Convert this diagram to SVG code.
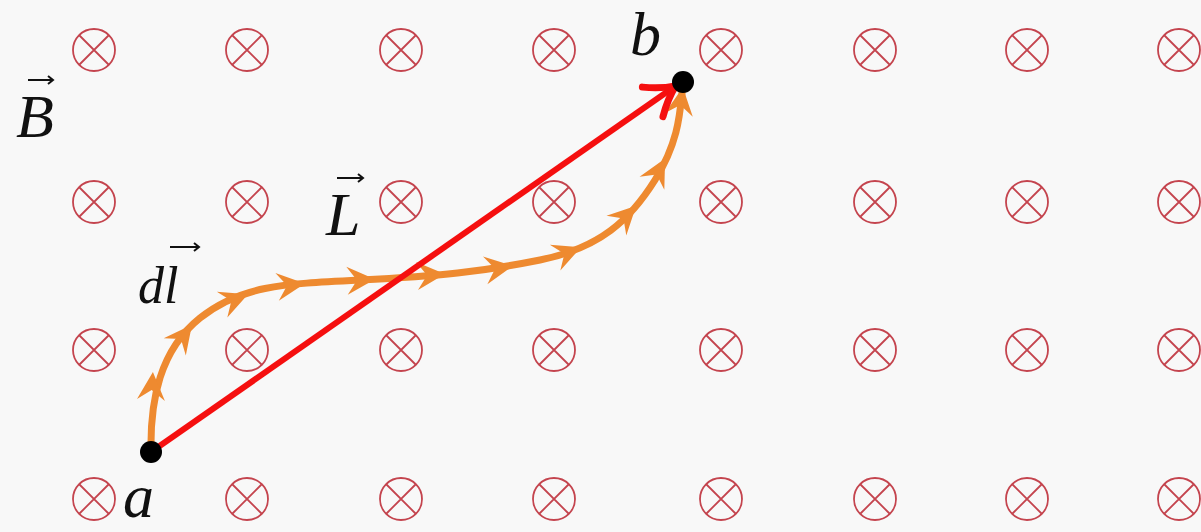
<svg xmlns="http://www.w3.org/2000/svg" xmlns:xlink="http://www.w3.org/1999/xlink" width="1201" height="532" viewBox="0 0 1201 532">
<style>
.ot{fill:none;stroke:#c4444e;stroke-width:1.8}
.lbl{font-family:"Liberation Serif",serif;font-style:italic;fill:#111}
.vec{stroke:#111;stroke-width:2;fill:none}
.orange{fill:none;stroke:#ee8a30;stroke-width:7;stroke-linecap:round}
.oh{fill:#ee8a30}
</style>
<defs>
<g id="x"><circle class="ot" r="21"/><path class="ot" d="M-15,-15L15,15M-15,15L15,-15"/></g>
<path id="ah" d="M13,0 L-15,-14 L-5,0 L-15,14 Z"/>
<marker id="redhead" markerUnits="userSpaceOnUse" markerWidth="50" markerHeight="50" viewBox="-35 -25 50 50" refX="0" refY="0" orient="auto">
<path d="M-26,-18 Q-12,-6 2,0 Q-12,6 -26,18" fill="none" stroke="#f50f0f" stroke-width="7" stroke-linecap="round" stroke-linejoin="round"/>
</marker>
</defs>
<rect width="1201" height="532" fill="#f8f8f8"/>
<g id="field">
<use xlink:href="#x" x="94" y="50"/><use xlink:href="#x" x="247" y="50"/><use xlink:href="#x" x="401" y="50"/><use xlink:href="#x" x="554" y="50"/><use xlink:href="#x" x="721" y="50"/><use xlink:href="#x" x="875" y="50"/><use xlink:href="#x" x="1027" y="50"/><use xlink:href="#x" x="1179" y="50"/>
<use xlink:href="#x" x="94" y="202"/><use xlink:href="#x" x="247" y="202"/><use xlink:href="#x" x="401" y="202"/><use xlink:href="#x" x="554" y="202"/><use xlink:href="#x" x="721" y="202"/><use xlink:href="#x" x="875" y="202"/><use xlink:href="#x" x="1027" y="202"/><use xlink:href="#x" x="1179" y="202"/>
<use xlink:href="#x" x="94" y="350"/><use xlink:href="#x" x="247" y="350"/><use xlink:href="#x" x="401" y="350"/><use xlink:href="#x" x="554" y="350"/><use xlink:href="#x" x="721" y="350"/><use xlink:href="#x" x="875" y="350"/><use xlink:href="#x" x="1027" y="350"/><use xlink:href="#x" x="1179" y="350"/>
<use xlink:href="#x" x="94" y="499"/><use xlink:href="#x" x="247" y="499"/><use xlink:href="#x" x="401" y="499"/><use xlink:href="#x" x="554" y="499"/><use xlink:href="#x" x="721" y="499"/><use xlink:href="#x" x="875" y="499"/><use xlink:href="#x" x="1027" y="499"/><use xlink:href="#x" x="1179" y="499"/>
</g>
<g id="connectors">
<g id="path-dl">
<path class="orange" d="M151,452 C150,400 160,350 200,318 S280,284 360,280 S480,272 540,260 S630,220 655,180 S680,110 683,84"/>
<g class="oh">
<use xlink:href="#ah" transform="translate(152,385) rotate(-86)"/>
<use xlink:href="#ah" transform="translate(184,335) rotate(-52)"/>
<use xlink:href="#ah" transform="translate(236,299) rotate(-22)"/>
<use xlink:href="#ah" transform="translate(292,285) rotate(-7)"/>
<use xlink:href="#ah" transform="translate(362,280) rotate(-3)"/>
<use xlink:href="#ah" transform="translate(432,275) rotate(-4)"/>
<use xlink:href="#ah" transform="translate(500,268) rotate(-9)"/>
<use xlink:href="#ah" transform="translate(569,252) rotate(-22)"/>
<use xlink:href="#ah" transform="translate(627,215) rotate(-45)"/>
<use xlink:href="#ah" transform="translate(659,170) rotate(-62)"/>
<use xlink:href="#ah" transform="translate(681,100) rotate(-82)"/>
</g>
</g>
<line id="vecL" x1="151" y1="452" x2="674" y2="87" stroke="#f50f0f" stroke-width="6" marker-end="url(#redhead)"/>
</g>
<g id="node-a"><circle cx="151" cy="452" r="11" fill="#000"/><text class="lbl" x="123" y="517" font-size="62">a</text></g>
<g id="node-b"><circle cx="683" cy="82" r="11" fill="#000"/><text class="lbl" x="630" y="55" font-size="62">b</text></g>
<g id="label-B"><text class="lbl" x="16" y="137" font-size="62">B</text><path class="vec" d="M28,80H53M48,76L53,80L48,84"/></g>
<g id="label-L"><text class="lbl" x="326" y="235" font-size="62">L</text><path class="vec" d="M337,178H363M358,174L363,178L358,182"/></g>
<g id="label-dl"><text class="lbl" x="138" y="303" font-size="52">dl</text><path class="vec" d="M170,247H199M194,243L199,247L194,251"/></g>
</svg>
